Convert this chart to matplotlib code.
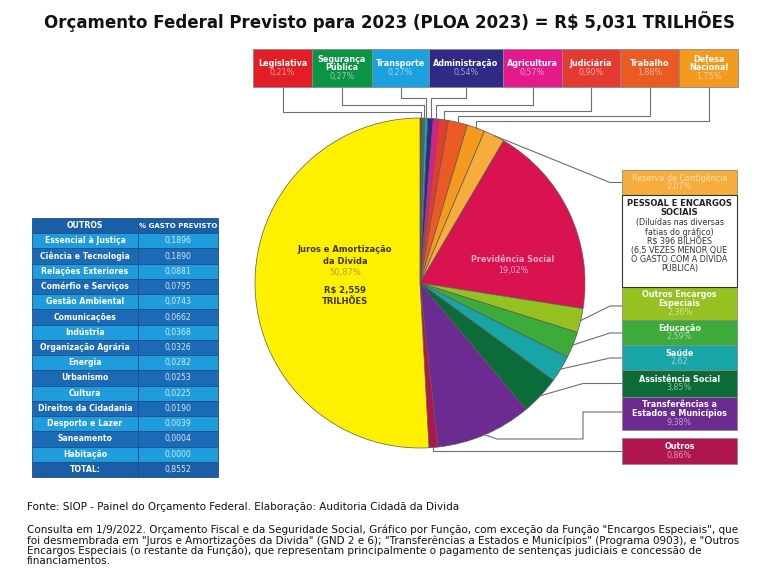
import matplotlib
matplotlib.use('Agg')
import matplotlib.pyplot as plt
from matplotlib.patches import Rectangle
import numpy as np

W, H = 768, 581

# pie slices, clockwise from the top
slice_names = ['Legislativa', 'Segurança Pública', 'Transporte', 'Administração',
               'Agricultura', 'Judiciária', 'Trabalho', 'Defesa Nacional',
               'Reserva de Contigência', 'Previdência Social',
               'Outros Encargos Especiais', 'Educação', 'Saúde', 'Assistência Social',
               'Transferências a Estados e Municípios', 'Outros',
               'Juros e Amortização da Divida']
slice_values = [0.21, 0.27, 0.27, 0.54, 0.57, 0.90, 1.88, 1.75, 2.07, 19.02,
                2.36, 2.59, 2.62, 3.85, 9.38, 0.86, 50.87]
slice_pct = ['0,21%', '0,27%', '0,27%', '0,54%', '0,57%', '0,90%', '1,88%', '1,75%',
             '2,07%', '19,02%', '2,36%', '2,59%', '2,62', '3,85%', '9,38%', '0,86%',
             '50,87%']
box_names = ['Legislativa', 'Segurança\nPública', 'Transporte', 'Administração',
             'Agricultura', 'Judiciária', 'Trabalho', 'Defesa\nNacional',
             'Reserva de Contigência', 'Previdência Social',
             'Outros Encargos\nEspeciais', 'Educação', 'Saúde', 'Assistência Social',
             'Transferências a\nEstados e Municípios', 'Outros',
             'Juros e Amortização\nda Divida']

# "outros" table
table_names = ['Essencial à Justiça', 'Ciência e Tecnologia', 'Relações Exteriores',
               'Comérfio e Serviços', 'Gestão Ambiental', 'Comunicações', 'Indústria',
               'Organização Agrária', 'Energia', 'Urbanismo', 'Cultura',
               'Direitos da Cidadania', 'Desporto e Lazer', 'Saneamento', 'Habitação']
table_values = [0.1896, 0.1890, 0.0881, 0.0795, 0.0743, 0.0662, 0.0368, 0.0326,
                0.0282, 0.0253, 0.0225, 0.0190, 0.0039, 0.0004, 0.0000]
table_total = 0.8552

colors = ['#c0272d', '#0b9444', '#1ba1de', '#2e2a86', '#e4198b', '#e53a2f',
          '#ec5a24', '#f39a1f', '#f6ad3c', '#d9134f', '#95c121', '#3dab3a',
          '#17a5a6', '#0b6b39', '#6b2b90', '#b0154f', '#fff000']
box_colors = list(colors)
box_colors[0] = '#e31e24'

title = 'Orçamento Federal Previsto para 2023 (PLOA 2023) = R$ 5,031 TRILHÕES'
fonte = 'Fonte: SIOP - Painel do Orçamento Federal. Elaboração: Auditoria Cidadã da Divida'
nota = ['Consulta em 1/9/2022. Orçamento Fiscal e da Seguridade Social, Gráfico por Função, com exceção da Função "Encargos Especiais", que',
        'foi desmembrada em "Juros e Amortizações da Divida" (GND 2 e 6); "Transferências a Estados e Municípios" (Programa 0903), e "Outros',
        'Encargos Especiais (o restante da Função), que representam principalmente o pagamento de sentenças judiciais e concessão de',
        'financiamentos.']
pessoal_bold = ['PESSOAL E ENCARGOS', 'SOCIAIS']
pessoal_text = ['(Diluídas nas diversas', 'fatias do gráfico)', 'R$ 396 BILHÕES',
                '(6,5 VEZES MENOR QUE', 'O GASTO COM A DÍVIDA', 'PÚBLICA)']

LINE = '#6e6e6e'


def tint(c, k=0.55):
    rgb = np.array(matplotlib.colors.to_rgb(c))
    return tuple(rgb + (1 - rgb) * k)


def fmt(v):
    return f'{v:.4f}'.replace('.', ',')


def label_box(ax, x0, y0, x1, y1, color, name, pct, fs=5.8, name_color='white',
              weight='bold', pct_color=None):
    ax.add_patch(Rectangle((x0, y0), x1 - x0, y1 - y0, facecolor=color,
                           edgecolor='#8a8a8a', lw=0.6, zorder=3))
    lines = name.split('\n')
    n = len(lines) + 1
    lh = 8.6
    ytop = (y0 + y1) / 2 - lh * (n - 1) / 2
    xc = (x0 + x1) / 2
    for k, t in enumerate(lines):
        ax.text(xc, ytop + k * lh, t, ha='center', va='center', fontsize=fs,
                color=name_color, fontweight=weight, zorder=4)
    ax.text(xc, ytop + len(lines) * lh, pct, ha='center', va='center', fontsize=fs,
            color=pct_color or tint(color), zorder=4)


fig = plt.figure(figsize=(W / 100, H / 100), dpi=100)
ax = fig.add_axes([0, 0, 1, 1])

# pie: y axis is flipped below, so counterclock=True runs clockwise on screen
cx, cy, R = 420, 283, 165
wedges, _ = ax.pie(slice_values, colors=colors, startangle=-90, counterclock=True,
                   center=(cx, cy), radius=R,
                   wedgeprops=dict(edgecolor='#5a5a5a', linewidth=0.5))
ax.set_xlim(0, W)
ax.set_ylim(H, 0)
ax.set_aspect('auto')
ax.axis('off')


def anchor(i):
    w = wedges[i]
    th = np.deg2rad((w.theta1 + w.theta2) / 2)
    return cx + R * np.cos(th), cy + R * np.sin(th)


ax.text(390, 22, title, ha='center', va='center', fontsize=12,
        fontweight='bold', color='#111111')

# top boxes
top_edges = [253, 312, 372, 429, 503, 562, 620, 679, 738]
top_y0, top_y1 = 49, 87
top_levels = [112, 105, 98, 98, 105, 111, 116, 121]
for i in range(8):
    x0, x1 = top_edges[i], top_edges[i + 1]
    label_box(ax, x0, top_y0, x1, top_y1, box_colors[i], box_names[i], slice_pct[i])
    bx = (x0 + x1) / 2
    axx, ayy = anchor(i)
    ax.plot([bx, bx, axx, axx], [top_y1, top_levels[i], top_levels[i], ayy],
            color=LINE, lw=0.8, zorder=2)

# right boxes
rx0, rx1 = 622, 737
right = [(8, 170, 195), (10, 287, 320), (11, 320, 345), (12, 345, 370),
         (13, 370, 397), (14, 397, 430), (15, 438, 464)]
for i, y0, y1 in right:
    if i == 8:
        label_box(ax, rx0, y0, rx1, y1, colors[i], box_names[i], slice_pct[i],
                  name_color=tint(colors[i], 0.65), weight='normal')
    else:
        label_box(ax, rx0, y0, rx1, y1, colors[i], box_names[i], slice_pct[i])

# white "pessoal" box
ax.add_patch(Rectangle((rx0, 195), rx1 - rx0, 92, facecolor='white',
                       edgecolor='#333333', lw=0.8, zorder=3))
for k, t in enumerate(pessoal_bold):
    ax.text((rx0 + rx1) / 2, 203 + k * 9.5, t, ha='center', va='center',
            fontsize=6, fontweight='bold', color='#222222', zorder=4)
for k, t in enumerate(pessoal_text):
    ax.text((rx0 + rx1) / 2, 223 + k * 9.1, t, ha='center', va='center',
            fontsize=5.8, color='#333333', zorder=4)

# connectors to right boxes
via = {8: [(610, 182.5)], 10: [(610, 306)], 11: [(610, 333)], 12: [(610, 358)],
       13: [(583, 383.5)], 14: [(497, 439), (583, 439), (583, 412)],
       15: [None]}
ends = {8: 182.5, 10: 306, 11: 333, 12: 358, 13: 383.5, 14: 412, 15: 451}
for i in via:
    axx, ayy = anchor(i)
    pts = [(axx, ayy)]
    for p in via[i]:
        pts.append(p if p is not None else (axx, ends[i]))
    pts.append((rx0, ends[i]))
    xs, ys = zip(*pts)
    ax.plot(xs, ys, color=LINE, lw=0.8, zorder=2)

# labels inside the pie
jx = 345
for k, t in enumerate(box_names[16].split('\n')):
    ax.text(jx, 250 + k * 11, t, ha='center', va='center', fontsize=6,
            fontweight='bold', color='#3b3816')
ax.text(jx, 272, slice_pct[16], ha='center', va='center', fontsize=6, color='#b3a21c')
ax.text(jx, 291, 'R$ 2,559', ha='center', va='center', fontsize=6,
        fontweight='bold', color='#3b3816')
ax.text(jx, 302, 'TRILHÕES', ha='center', va='center', fontsize=6,
        fontweight='bold', color='#3b3816')
ax.text(513, 260, box_names[9], ha='center', va='center', fontsize=5.8,
        fontweight='bold', color='#f7a8c8')
ax.text(513, 271, slice_pct[9], ha='center', va='center', fontsize=5.8, color='#f7a8c8')

# table
tx0, tx1, tx2 = 32, 138, 218
ty0 = 218
rh = (477 - ty0) / (len(table_names) + 2)
rows = [('OUTROS', '% GASTO PREVISTO')] + \
       [(n, fmt(v)) for n, v in zip(table_names, table_values)] + \
       [('TOTAL:', fmt(table_total))]
for r, (n, v) in enumerate(rows):
    y = ty0 + r * rh
    if r == 0 or r == len(rows) - 1:
        fc = '#1a5fa6'
    elif r % 2 == 1:
        fc = '#1f9cdc'
    else:
        fc = '#1b6ab5'
    for xa, xb in [(tx0, tx1), (tx1, tx2)]:
        ax.add_patch(Rectangle((xa, y), xb - xa, rh, facecolor=fc,
                               edgecolor='#1b4f8c', lw=0.6, zorder=3))
    hdr = r == 0
    ax.text((tx0 + tx1) / 2, y + rh / 2, n, ha='center', va='center', fontsize=5.6,
            fontweight='bold', color='white', zorder=4)
    ax.text((tx1 + tx2) / 2, y + rh / 2, v, ha='center', va='center',
            fontsize=5.0 if hdr else 5.6,
            fontweight='bold' if hdr else 'normal',
            color='white' if hdr else '#cfe9f9', zorder=4)

# footer
ax.text(27, 507, fonte, ha='left', va='center', fontsize=7.5, color='#111111')
for k, t in enumerate(nota):
    ax.text(27, 530 + k * 10.5, t, ha='left', va='center', fontsize=7.5, color='#111111')

fig.savefig('out.png', dpi=100, facecolor='white')
